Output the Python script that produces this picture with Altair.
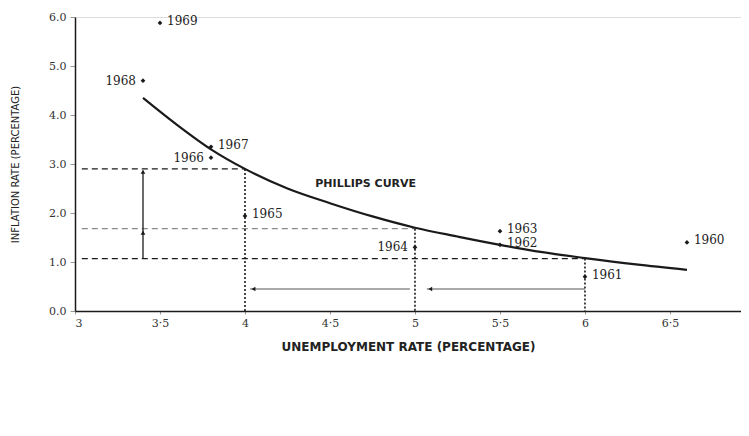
import altair as alt
import pandas as pd

# Observed data points (unemployment %, inflation %)
years = [1960, 1961, 1962, 1963, 1964, 1965, 1966, 1967, 1968, 1969]
unemp = [6.6, 6.0, 5.5, 5.5, 5.0, 4.0, 3.8, 3.8, 3.4, 3.5]
infl = [1.4, 0.7, 1.35, 1.63, 1.3, 1.94, 3.13, 3.35, 4.7, 5.88]
left_label_years = [1964, 1966, 1968]

# Phillips curve
curve_x = [3.4, 3.6, 3.8, 4.0, 4.25, 4.5, 4.75, 5.0, 5.25, 5.5, 5.75, 6.0, 6.3, 6.6]
curve_y = [4.35, 3.8, 3.3, 2.9, 2.5, 2.2, 1.93, 1.7, 1.52, 1.35, 1.2, 1.08, 0.95, 0.84]

# Guide lines
guide_start = [3.04, 3.04, 3.04]
guide_x = [4.0, 5.0, 6.0]
guide_y = [2.9, 1.68, 1.07]
guide_tone = ["dark", "light", "dark"]

# Arrows
varrow_x = [3.4]
varrow_y1 = [1.07]
varrow_y2 = [2.86]
vhead_x = [3.4, 3.4]
vhead_y = [2.84, 1.6]
harrow_x1 = [4.03, 5.07]
harrow_x2 = [4.97, 6.0]
harrow_y = [0.45, 0.45]
hhead_x = [4.05, 5.09]
hhead_y = [0.45, 0.45]

x_ticks = [3, 3.5, 4, 4.5, 5, 5.5, 6, 6.5]
y_ticks = [0, 1, 2, 3, 4, 5, 6]

pts = pd.DataFrame({"year": years, "u": unemp, "i": infl})
pts["side"] = ["left" if y in left_label_years else "right" for y in years]
curve = pd.DataFrame({"u": curve_x, "i": curve_y})
guides = pd.DataFrame({"x0": guide_start, "x1": guide_x, "y": guide_y, "tone": guide_tone})
varrow = pd.DataFrame({"x": varrow_x, "y1": varrow_y1, "y2": varrow_y2})
vheads = pd.DataFrame({"x": vhead_x, "y": vhead_y})
harrows = pd.DataFrame({"x1": harrow_x1, "x2": harrow_x2, "y": harrow_y})
hheads = pd.DataFrame({"x": hhead_x, "y": hhead_y})
note = pd.DataFrame({"x": [4.71], "y": [2.59], "t": ["PHILLIPS CURVE"]})

INK = "#1a1a1a"
SERIF = "DejaVu Serif"
SANS = "DejaVu Sans"

xs = alt.Scale(domain=[3, 6.918], nice=False, zero=False)
ys = alt.Scale(domain=[0, 6], nice=False)

x_axis = alt.Axis(
    values=x_ticks,
    labelExpr="replace(format(datum.value, ''), '.', '·')",
    title="UNEMPLOYMENT RATE (PERCENTAGE)",
    titleFont=SANS, titleFontSize=12, titleFontWeight="bold", titleColor="#222",
    titleY=35, titleBaseline="middle",
    labelFont=SERIF, labelFontSize=11, labelColor="#333", labelPadding=3,
    tickSize=3, tickColor="#999", domainColor=INK, domainWidth=1.5, grid=False,
)
y_axis = alt.Axis(
    values=y_ticks, format=".1f",
    title="INFLATION RATE (PERCENTAGE)",
    titleFont=SANS, titleFontSize=10, titleFontWeight="normal", titleColor="#222",
    titleX=-60, titleBaseline="middle",
    labelFont=SERIF, labelFontSize=11, labelColor="#333", labelPadding=4,
    tickSize=5, tickColor="#999", domainColor=INK, domainWidth=1.5, grid=False,
)

base_x = alt.X("u:Q", scale=xs, axis=x_axis)
base_y = alt.Y("i:Q", scale=ys, axis=y_axis)

curve_layer = alt.Chart(curve).mark_line(color=INK, strokeWidth=2.2, interpolate="monotone").encode(
    x=base_x, y=base_y
)

hguides = alt.Chart(guides).mark_rule(strokeDash=[6, 4], strokeWidth=1.3).encode(
    x=alt.X("x0:Q", scale=xs), x2="x1:Q", y=alt.Y("y:Q", scale=ys),
    color=alt.Color("tone:N", scale=alt.Scale(domain=["dark", "light"], range=[INK, "#8a8a8a"]), legend=None),
)
vguides = alt.Chart(guides).mark_rule(strokeDash=[2, 2], strokeWidth=1.6, color=INK).encode(
    x=alt.X("x1:Q", scale=xs), y=alt.Y("y:Q", scale=ys), y2=alt.datum(0)
)

varrow_layer = alt.Chart(varrow).mark_rule(color=INK, strokeWidth=1.3).encode(
    x=alt.X("x:Q", scale=xs), y=alt.Y("y1:Q", scale=ys), y2="y2:Q"
)
vhead_layer = alt.Chart(vheads).mark_point(shape="triangle-up", filled=True, size=22, color=INK, opacity=1).encode(
    x=alt.X("x:Q", scale=xs), y=alt.Y("y:Q", scale=ys)
)
harrow_layer = alt.Chart(harrows).mark_rule(color="#555", strokeWidth=1.1).encode(
    x=alt.X("x1:Q", scale=xs), x2="x2:Q", y=alt.Y("y:Q", scale=ys)
)
hhead_layer = alt.Chart(hheads).mark_point(shape="triangle-left", filled=True, size=20, color=INK, opacity=1).encode(
    x=alt.X("x:Q", scale=xs), y=alt.Y("y:Q", scale=ys)
)

point_layer = alt.Chart(pts).mark_point(shape="diamond", filled=True, size=22, color=INK, opacity=1).encode(
    x=alt.X("u:Q", scale=xs), y=alt.Y("i:Q", scale=ys)
)
right_labels = alt.Chart(pts).transform_filter(alt.datum.side == "right").mark_text(
    align="left", baseline="middle", dx=7, dy=-2, font=SERIF, fontSize=12, color="#222"
).encode(x=alt.X("u:Q", scale=xs), y=alt.Y("i:Q", scale=ys), text="year:N")
left_labels = alt.Chart(pts).transform_filter(alt.datum.side == "left").mark_text(
    align="right", baseline="middle", dx=-7, dy=0, font=SERIF, fontSize=12, color="#222"
).encode(x=alt.X("u:Q", scale=xs), y=alt.Y("i:Q", scale=ys), text="year:N")

note_layer = alt.Chart(note).mark_text(
    font=SANS, fontSize=11, fontWeight="bold", color="#222", align="center", baseline="middle"
).encode(x=alt.X("x:Q", scale=xs), y=alt.Y("y:Q", scale=ys), text="t:N")

chart = alt.layer(
    hguides, vguides, varrow_layer, vhead_layer, harrow_layer, hhead_layer,
    curve_layer, point_layer, right_labels, left_labels, note_layer,
).properties(
    width=666, height=294,
    autosize=alt.AutoSizeParams(type="none"),
    padding={"left": 67, "top": 9, "right": 0, "bottom": 60},
).configure_view(stroke=None).configure(background="white")

chart.save("out.html", embed_options={"renderer": "svg", "actions": False})
